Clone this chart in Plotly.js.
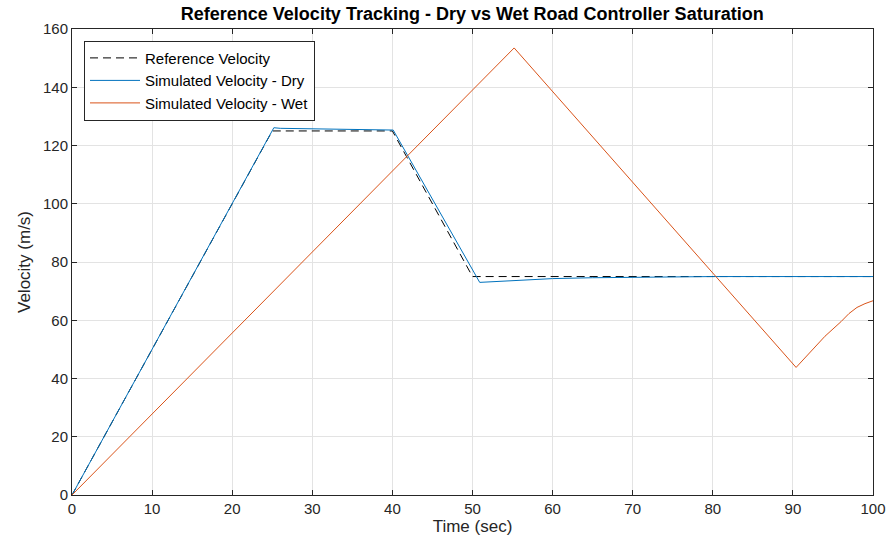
<!DOCTYPE html>
<html>
<head>
<meta charset="utf-8">
<script src="https://cdn.plot.ly/plotly-3.0.1.min.js"></script>
<style>html,body{margin:0;padding:0;background:#fff;}#chart{width:891px;height:550px;}</style>
</head>
<body>
<div id="chart"></div>
<script>
// Reference velocity
const tRef = [0, 25, 40, 50, 100];
const vRef = [0, 125, 125, 75, 75];
// Simulated velocity - Dry
const tDry = [0, 25.2, 26, 30, 35, 40.1, 50.9, 55, 60, 65, 70, 80, 100];
const vDry = [0, 126.1, 125.9, 125.7, 125.5, 125.3, 73.0, 73.7, 74.3, 74.6, 74.8, 75, 75];
// Simulated velocity - Wet
const tWet = [0, 55.2, 90.4, 92, 94, 96, 97, 98, 99, 100];
const vWet = [0, 153.5, 43.8, 48.5, 54.5, 59.5, 62.3, 64.4, 65.7, 66.7];

const xTicks = [0,10,20,30,40,50,60,70,80,90,100];
const yTicks = [0,20,40,60,80,100,120,140,160];

const FAM = 'Liberation Sans, Arial, sans-serif';
const tickFont = {family: FAM, size: 15, color: '#262626'};
const titleFont = {family: FAM, size: 17, color: '#262626'};

const traces = [
  {x: tRef, y: vRef, mode: 'lines', name: 'Reference Velocity',
   line: {color: '#000000', width: 1, dash: '8px,5px'}},
  {x: tDry, y: vDry, mode: 'lines', name: 'Simulated Velocity - Dry',
   line: {color: '#0072BD', width: 1}},
  {x: tWet, y: vWet, mode: 'lines', name: 'Simulated Velocity - Wet',
   line: {color: '#D95319', width: 1}}
];

const axisCommon = {
  showline: true, linecolor: '#262626', linewidth: 1, mirror: 'ticks',
  ticks: 'inside', ticklen: 5, tickcolor: '#262626',
  showgrid: true, gridcolor: '#e3e3e3', gridwidth: 1,
  zeroline: false, tickfont: tickFont
};

const layout = {
  width: 891, height: 550,
  margin: {l: 72, r: 18, t: 29, b: 55},
  paper_bgcolor: '#ffffff', plot_bgcolor: '#ffffff',
  font: tickFont,
  title: {text: '<b>Reference Velocity Tracking - Dry vs Wet Road Controller Saturation</b>',
          font: {family: FAM, size: 18, color: '#000000'},
          x: 0.53, xanchor: 'center', y: 0.975, yanchor: 'middle'},
  xaxis: Object.assign({}, axisCommon, {
    range: [0, 100], tickvals: xTicks, ticktext: xTicks.map(String),
    title: {text: 'Time (sec)', font: titleFont, standoff: 4}
  }),
  yaxis: Object.assign({}, axisCommon, {
    range: [0, 160], tickvals: yTicks, ticktext: yTicks.map(String),
    title: {text: 'Velocity (m/s)', font: titleFont, standoff: 8}
  }),
  showlegend: true,
  legend: {x: 0.015, y: 0.975, xanchor: 'left', yanchor: 'top',
           bgcolor: '#ffffff', bordercolor: '#262626', borderwidth: 1,
           font: {family: FAM, size: 15, color: '#000000'},
           tracegroupgap: 0, itemwidth: 50}
};

Plotly.newPlot('chart', traces, layout, {displayModeBar: false, staticPlot: true});
</script>
</body>
</html>
